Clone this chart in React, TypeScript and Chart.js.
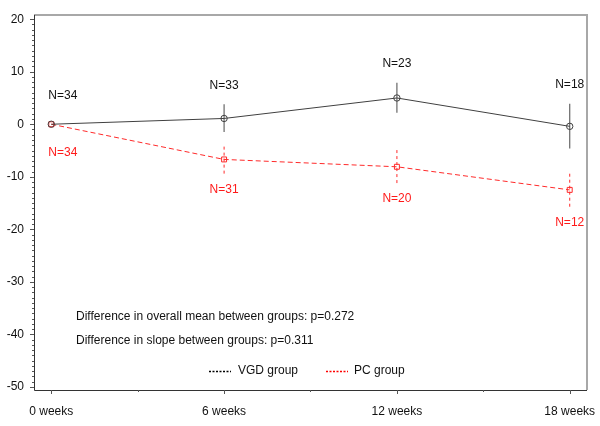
import React, { useEffect, useRef } from 'react';
import { Chart, registerables } from 'chart.js';
Chart.register(...registerables);

const weeks = [0, 6, 12, 18];
const weekLabels = ['0 weeks', '6 weeks', '12 weeks', '18 weeks'];
const vgdMean = [0, 1.1, 5.0, -0.4];
const vgdLow = [0, -1.5, 2.2, -4.6];
const vgdHigh = [0, 3.8, 7.9, 3.9];
const pcMean = [0, -6.7, -8.1, -12.5];
const pcLow = [0, -9.4, -11.2, -15.7];
const pcHigh = [0, -3.8, -4.8, -9.1];
const vgdN = [34, 33, 23, 18];
const pcN = [34, 31, 20, 12];
const notes = [
  'Difference in overall mean between groups: p=0.272',
  'Difference in slope between groups: p=0.311',
];
const seriesNames = ['VGD group', 'PC group'];
const yTicks = [20, 10, 0, -10, -20, -30, -40, -50];

const FONT = '12px "Liberation Sans", Arial, sans-serif';
const DARK = '#404040';
const RED = '#ff2a2a';

const overlay = {
  id: 'overlay',
  beforeDatasetsDraw(chart: any) {
    const ctx = chart.ctx;
    const xs = chart.scales.x;
    const ys = chart.scales.y;
    ctx.save();
    weeks.forEach((w, i) => {
      const x = xs.getPixelForValue(w);
      if (vgdHigh[i] !== vgdLow[i]) {
        ctx.strokeStyle = '#666';
        ctx.lineWidth = 1.2;
        ctx.setLineDash([]);
        ctx.beginPath();
        ctx.moveTo(x, ys.getPixelForValue(vgdLow[i]));
        ctx.lineTo(x, ys.getPixelForValue(vgdHigh[i]));
        ctx.stroke();
      }
      if (pcHigh[i] !== pcLow[i]) {
        ctx.strokeStyle = RED;
        ctx.lineWidth = 1;
        ctx.setLineDash([3, 3]);
        ctx.beginPath();
        ctx.moveTo(x, ys.getPixelForValue(pcLow[i]));
        ctx.lineTo(x, ys.getPixelForValue(pcHigh[i]));
        ctx.stroke();
      }
    });
    ctx.restore();
  },
  afterDraw(chart: any) {
    const ctx = chart.ctx;
    const xs = chart.scales.x;
    const ys = chart.scales.y;
    const a = chart.chartArea;
    ctx.save();
    ctx.setLineDash([]);
    ctx.strokeStyle = '#a8a8a8';
    ctx.lineWidth = 2;
    ctx.beginPath();
    ctx.moveTo(a.left, a.top);
    ctx.lineTo(a.right, a.top);
    ctx.lineTo(a.right, a.bottom);
    ctx.stroke();
    ctx.strokeStyle = '#333';
    ctx.lineWidth = 1;
    ctx.beginPath();
    ctx.moveTo(a.left + 0.5, a.top);
    ctx.lineTo(a.left + 0.5, a.bottom + 0.5);
    ctx.lineTo(a.right, a.bottom + 0.5);
    ctx.stroke();
    ctx.strokeStyle = '#555';
    ctx.beginPath();
    for (let v = -50; v <= 20; v += 1) {
      const y = Math.round(ys.getPixelForValue(v)) + 0.5;
      const len = v % 10 === 0 ? 4 : 2;
      ctx.moveTo(a.left, y);
      ctx.lineTo(a.left - len, y);
    }
    for (let w = 0; w <= 18; w += 3) {
      const x = Math.round(xs.getPixelForValue(w)) + 0.5;
      const len = w % 6 === 0 ? 4 : 2;
      ctx.moveTo(x, a.bottom);
      ctx.lineTo(x, a.bottom + len);
    }
    ctx.stroke();

    ctx.font = FONT;
    ctx.textBaseline = 'middle';
    weeks.forEach((w, i) => {
      const x = xs.getPixelForValue(w);
      const first = i === 0;
      ctx.textAlign = first ? 'left' : 'center';
      const lx = first ? x - 3 : x;
      const top = ys.getPixelForValue(vgdHigh[i]);
      const vy = vgdHigh[i] === vgdLow[i] ? ys.getPixelForValue(vgdMean[i]) - 29 : top - 19;
      ctx.fillStyle = '#111';
      ctx.fillText('N=' + vgdN[i], lx, vy);
      const bot = ys.getPixelForValue(pcLow[i]);
      const py = pcHigh[i] === pcLow[i] ? ys.getPixelForValue(pcMean[i]) + 28 : bot + 16;
      ctx.fillStyle = '#ff1a1a';
      ctx.fillText('N=' + pcN[i], lx, py);
    });

    ctx.textAlign = 'left';
    ctx.fillStyle = '#111';
    ctx.fillText(notes[0], a.left + 42, 317);
    ctx.fillText(notes[1], a.left + 42, 341);

    const ly = 371;
    ctx.lineWidth = 1.3;
    ctx.setLineDash([2, 1.5]);
    ctx.strokeStyle = '#000';
    ctx.beginPath();
    ctx.moveTo(209, ly + 0.5);
    ctx.lineTo(231, ly + 0.5);
    ctx.stroke();
    ctx.strokeStyle = '#ff0000';
    ctx.beginPath();
    ctx.moveTo(326, ly + 0.5);
    ctx.lineTo(348, ly + 0.5);
    ctx.stroke();
    ctx.setLineDash([]);
    ctx.fillStyle = '#111';
    ctx.fillText(seriesNames[0], 238, ly);
    ctx.fillText(seriesNames[1], 354, ly);
    ctx.restore();
  },
};

export default function App() {
  const ref = useRef<HTMLCanvasElement>(null);
  useEffect(() => {
    document.body.style.margin = '0';
    const canvas = ref.current!;
    const chart = new Chart(canvas, {
      type: 'line',
      data: {
        datasets: [
          {
            label: seriesNames[0],
            data: weeks.map((w, i) => ({ x: w, y: vgdMean[i] })),
            borderColor: DARK,
            borderWidth: 1,
            pointStyle: 'circle',
            pointRadius: 3.2,
            pointBorderColor: DARK,
            pointBackgroundColor: 'rgba(0,0,0,0)',
            pointBorderWidth: 1,
            tension: 0,
          },
          {
            label: seriesNames[1],
            data: weeks.map((w, i) => ({ x: w, y: pcMean[i] })),
            borderColor: RED,
            borderWidth: 1,
            borderDash: [5, 3],
            pointStyle: 'rect',
            pointRadius: 3.5,
            pointBorderColor: RED,
            pointBackgroundColor: 'rgba(0,0,0,0)',
            pointBorderWidth: 1,
            tension: 0,
          },
        ],
      },
      options: {
        animation: false,
        responsive: false,
        maintainAspectRatio: false,
        layout: { padding: { top: 15, right: 13, left: 0, bottom: 0 } },
        plugins: { legend: { display: false }, tooltip: { enabled: false } },
        scales: {
          x: {
            type: 'linear',
            min: -0.6,
            max: 18.6,
            afterFit: (s: any) => { s.height = 36; s.paddingLeft = 0; s.paddingRight = 0; },
            afterBuildTicks: (s: any) => { s.ticks = weeks.map((w) => ({ value: w })); },
            ticks: {
              callback: (v: any) => weekLabels[weeks.indexOf(Number(v))] ?? '',
              font: { family: '"Liberation Sans", Arial, sans-serif', size: 12 },
              color: '#111',
              padding: 14,
              maxRotation: 0,
              autoSkip: false,
            },
            grid: { display: true, drawOnChartArea: false, drawTicks: false },
            border: { display: false },
          },
          y: {
            type: 'linear',
            min: -50.6,
            max: 20.8,
            afterFit: (s: any) => { s.width = 34; s.paddingTop = 0; s.paddingBottom = 0; },
            afterBuildTicks: (s: any) => { s.ticks = yTicks.map((v) => ({ value: v })); },
            ticks: {
              font: { family: '"Liberation Sans", Arial, sans-serif', size: 12 },
              color: '#111',
              padding: 10,
              autoSkip: false,
            },
            grid: { display: true, drawOnChartArea: false, drawTicks: false },
            border: { display: false },
          },
        },
      },
      plugins: [overlay],
    });
    return () => chart.destroy();
  }, []);
  return <canvas ref={ref} width={600} height={426} style={{ display: 'block' }} />;
}
